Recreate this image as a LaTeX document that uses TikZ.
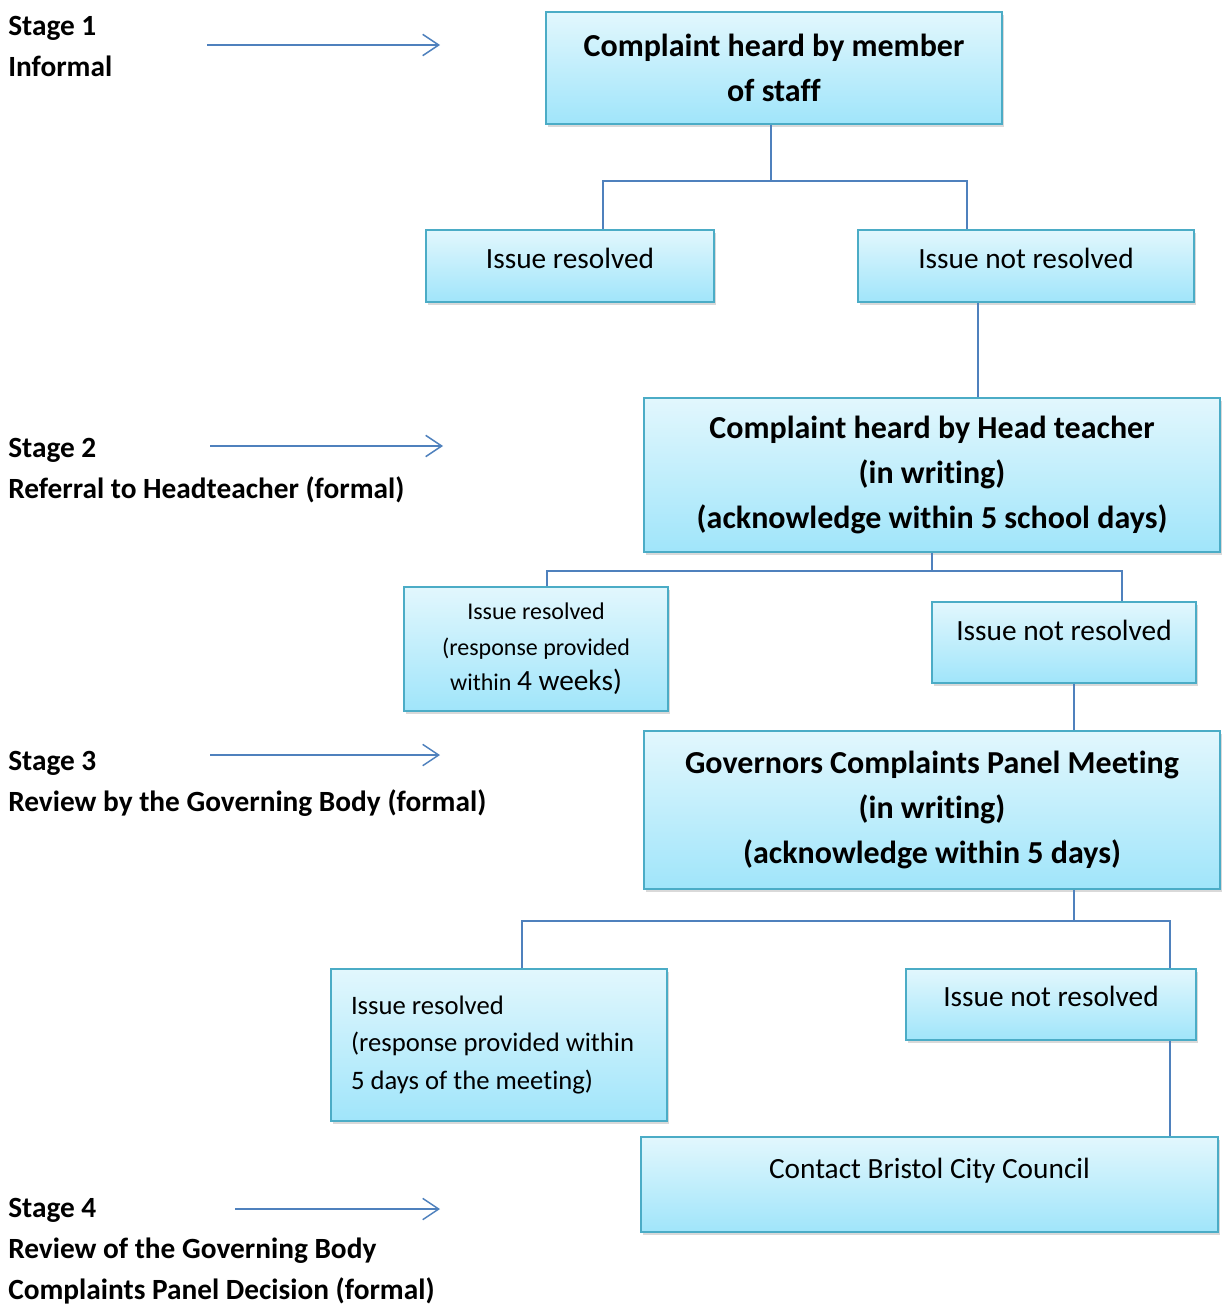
\documentclass[tikz,border=0pt]{standalone}
\usepackage{fontspec}
\setmainfont{Carlito}[Ligatures=CommonOff]
\usetikzlibrary{arrows.meta,positioning,shadows}
\definecolor{boxtop}{HTML}{E2F7FD}
\definecolor{boxbottom}{HTML}{A0E5FA}
\definecolor{boxedge}{HTML}{4BACC6}
\definecolor{linkblue}{HTML}{4F81BD}

\begin{document}
\begin{tikzpicture}[x=0.75pt, y=-0.75pt,
  stagebox/.style={draw=boxedge, line width=1.4pt, top color=boxtop, bottom color=boxbottom, drop shadow={opacity=0.3, shadow xshift=1.5pt, shadow yshift=-2pt}, align=center, inner sep=0pt},
  headtext/.style={font=\fontsize{24}{34}\selectfont\bfseries},
  plaintext/.style={font=\fontsize{22}{28}\selectfont},
  stagelabel/.style={anchor=north west, inner sep=0pt, align=left, font=\fontsize{22}{30.75}\selectfont\bfseries},
  link/.style={draw=linkblue, line width=1.1pt},
  pointer/.style={draw=linkblue, line width=1.1pt, -{Straight Barb[length=12pt, width=16pt]}},
]
  \useasboundingbox (0,0) rectangle (1222,1305);

  \node[stagebox, headtext, minimum width=342pt, minimum height=84pt] (staff) at (774,68) {Complaint heard by member\\of staff};
  \node[stagebox, plaintext, minimum width=216pt, minimum height=54pt, text depth=12pt] (res1) at (570,266) {Issue resolved};
  \node[stagebox, plaintext, minimum width=252pt, minimum height=54pt, text depth=12pt] (nres1) at (1026,266) {Issue not resolved};
  \node[stagebox, headtext, minimum width=432pt, minimum height=115.5pt] (head) at (932,475) {Complaint heard by Head teacher\\(in writing)\\(acknowledge within 5 school days)};
  \node[stagebox, font=\fontsize{18}{26.5}\selectfont, minimum width=198pt, minimum height=93pt] (res2) at (536,649) {Issue resolved\\(response provided\\within {\fontsize{22}{26.5}\selectfont 4 weeks)}};
  \node[stagebox, plaintext, minimum width=198pt, minimum height=60.75pt, text depth=19pt] (nres2) at (1064,642.5) {Issue not resolved};
  \node[stagebox, headtext, minimum width=432pt, minimum height=118.5pt] (gov) at (932,810) {Governors Complaints Panel Meeting\\(in writing)\\(acknowledge within 5 days)};
  \node[stagebox, align=flush left, font=\fontsize{20}{28}\selectfont, text width=222pt, inner xsep=15pt, minimum height=114pt] (res3) at (499,1045) {Issue resolved\\(response provided within\\5 days of the meeting)};
  \node[stagebox, plaintext, minimum width=217.5pt, minimum height=53.25pt, text depth=13pt] (nres3) at (1051,1004.5) {Issue not resolved};
  \node[stagebox, plaintext, minimum width=432.75pt, minimum height=71.25pt, text depth=25pt] (council) at (929.5,1184.5) {Contact Bristol City Council};

  \node[stagelabel] (stage1) at (8,16) {Stage 1\\Informal};
  \node[stagelabel] (stage2) at (8,438) {Stage 2\\Referral to Headteacher (formal)};
  \node[stagelabel] (stage3) at (8,751) {Stage 3\\Review by the Governing Body (formal)};
  \node[stagelabel] (stage4) at (8,1198) {Stage 4\\Review of the Governing Body\\Complaints Panel Decision (formal)};

  \coordinate (tip1) at (440,45);
  \coordinate (tip2) at (443,446);
  \coordinate (tip3) at (440,755);
  \coordinate (tip4) at (440,1209);
  \draw[pointer] (207,45) -- (tip1);
  \draw[pointer] (210,446) -- (tip2);
  \draw[pointer] (210,755) -- (tip3);
  \draw[pointer] (235,1209) -- (tip4);

  \draw[link] ([xshift=-2.25pt]staff.south) -- ++(0,56) coordinate (fork1);
  \draw[link] ([xshift=24.75pt]res1.north) |- (fork1) -| ([xshift=-44.25pt]nres1.north);
  \draw[link] ([xshift=-36pt]nres1.south) -- ([xshift=-36pt]nres1.south |- head.north);
  \draw[link] (head.south) -- ++(0,18) coordinate (fork2);
  \draw[link] ([xshift=8.25pt]res2.north) |- (fork2) -| ([xshift=43.5pt]nres2.north);
  \draw[link] ([xshift=7.5pt]nres2.south) -- ([xshift=7.5pt]nres2.south |- gov.north);
  \draw[link] ([xshift=106.5pt]gov.south) -- ++(0,31) coordinate (fork3);
  \draw[link] ([xshift=17.25pt]res3.north) |- (fork3) -| ([xshift=89.25pt]nres3.north);
  \draw[link] ([xshift=89.25pt]nres3.south) -- ([xshift=89.25pt]nres3.south |- council.north);
\end{tikzpicture}
\end{document}
